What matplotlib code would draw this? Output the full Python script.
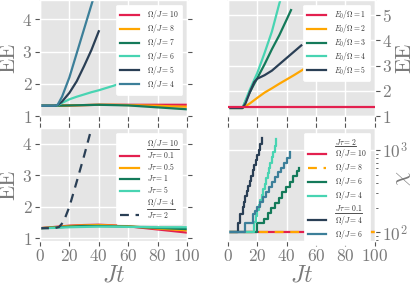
import matplotlib
matplotlib.use("agg")
import matplotlib.pyplot as plt
from matplotlib.lines import Line2D

# colours
RED = "#e3204f"
ORANGE = "#ffa600"
GREEN = "#147a5a"
TURQ = "#48d4b2"
NAVY = "#2a3f55"
STEEL = "#3c7f99"

# top left: EE vs Jt for several Omega/J
tl_t_flat = [0, 10, 20, 30, 40, 50, 60, 70, 80, 90, 100]
tl_om10 = [1.32, 1.32, 1.33, 1.34, 1.35, 1.35, 1.35, 1.35, 1.35, 1.35, 1.35]
tl_om8 = [1.32, 1.32, 1.33, 1.34, 1.35, 1.35, 1.34, 1.33, 1.32, 1.30, 1.29]
tl_om7 = [1.32, 1.32, 1.33, 1.34, 1.35, 1.34, 1.33, 1.30, 1.27, 1.24, 1.21]
tl_t6 = [0, 10, 12, 15, 20, 25, 30, 35, 40, 45, 50, 55, 60]
tl_om6 = [1.32, 1.32, 1.33, 1.41, 1.52, 1.60, 1.67, 1.74, 1.80, 1.87, 1.94, 2.02, 2.12]
tl_t5 = [0, 10, 12, 15, 20, 25, 30, 35, 40]
tl_om5 = [1.32, 1.32, 1.34, 1.45, 1.72, 2.08, 2.55, 3.05, 3.63]
tl_t4 = [0, 10, 12, 15, 20, 25, 30, 35, 37]
tl_om4 = [1.32, 1.32, 1.35, 1.60, 2.20, 2.95, 3.70, 4.45, 4.75]

# top right: EE vs Jt for several E0/Omega
tr_t1 = [0, 20, 40, 60, 80, 100]
tr_e1 = [1.34, 1.34, 1.34, 1.34, 1.34, 1.34]
tr_t2 = [0, 10, 15, 20, 25, 30, 35, 40, 45, 50, 55, 60]
tr_e2 = [1.32, 1.32, 1.50, 1.72, 1.93, 2.10, 2.28, 2.45, 2.62, 2.80, 2.98, 3.17]
tr_t3 = [0, 10, 15, 20, 25, 30, 35, 40, 43]
tr_e3 = [1.32, 1.32, 1.95, 2.50, 3.05, 3.65, 4.20, 4.82, 5.20]
tr_t4 = [0, 10, 15, 20, 25, 30, 35, 36]
tr_e4 = [1.32, 1.32, 2.05, 2.70, 3.50, 4.35, 5.45, 5.65]
tr_t5 = [0, 10, 12, 15, 18, 20, 25, 30, 35, 40, 45, 50]
tr_e5 = [1.32, 1.32, 1.50, 1.95, 2.35, 2.48, 2.62, 2.80, 3.05, 3.30, 3.55, 3.80]

# bottom left: EE vs Jt for several J tau
bl_t = [0, 10, 20, 30, 40, 50, 60, 70, 80, 90, 100]
bl_tau01 = [1.32, 1.36, 1.40, 1.42, 1.43, 1.41, 1.38, 1.33, 1.28, 1.23, 1.18]
bl_tau05 = [1.32, 1.35, 1.39, 1.41, 1.42, 1.40, 1.38, 1.35, 1.31, 1.28, 1.25]
bl_tau1 = [1.32, 1.34, 1.37, 1.39, 1.39, 1.38, 1.37, 1.35, 1.33, 1.31, 1.29]
bl_tau5 = [1.32, 1.33, 1.35, 1.36, 1.37, 1.37, 1.36, 1.36, 1.35, 1.35, 1.35]
bl_t_om4 = [0, 10, 13, 16, 20, 25, 30, 34.5]
bl_om4_tau2 = [1.32, 1.32, 1.36, 1.52, 2.00, 2.80, 3.62, 4.40]

# bottom right: bond dimension chi vs Jt
br_t_flat = [0, 100]
br_chi_flat = [100, 100]
br_t_g = [0, 19.9, 24.5, 27, 29.5, 32, 34.5, 37, 39.5, 42, 44.5, 47, 48.4]
br_chi_g = [100, 131, 146, 170, 196, 228, 264, 306, 355, 412, 478, 555, 600]
br_t_q = [0, 17.7, 19, 20, 21, 22, 23, 24, 25, 26, 27, 28, 29, 30, 31, 32, 33.1]
br_chi_q = [100, 132, 158, 185, 213, 249, 288, 336, 388, 453, 523, 611, 705,
            823, 950, 1110, 1350]
br_t_n = [0, 6.8, 8.6, 10, 11, 12, 13, 14, 15, 16, 17, 18, 19, 20, 21, 22, 23.3]
br_chi_n = [100, 131, 167, 204, 236, 273, 316, 365, 423, 489, 566, 655, 758,
            877, 1015, 1175, 1410]
br_t_s = [0, 11.8, 17, 18.5, 20, 22, 24, 26, 28, 30, 32, 34, 36, 38, 40, 42.6]
br_chi_s = [100, 131, 166, 182, 202, 233, 268, 308, 354, 407, 468, 538, 608,
            695, 795, 955]

x_ticks = [0, 20, 40, 60, 80, 100]

plt.style.use("ggplot")
plt.rcParams.update({
    "font.family": "serif",
    "font.serif": ["cmr10"],
    "mathtext.fontset": "cm",
    "axes.formatter.use_mathtext": True,
    "axes.unicode_minus": False,
    "axes.facecolor": "#e5e5e5",
    "grid.color": "white",
    "grid.linewidth": 1.0,
})

GRAY = "#7a7a7a"
LW = 1.6


def _style(ax, right=False, xlabels=True):
    ax.set_xlim(0, 100)
    ax.set_xticks(x_ticks)
    ax.tick_params(which="both", direction="out", top=True, bottom=True,
                   left=not right, right=True, color="#555555",
                   labelcolor=GRAY, labelsize=12.5, labelleft=not right,
                   labelright=right, labelbottom=xlabels, pad=2)
    ax.tick_params(which="major", length=3.5, width=0.8)
    ax.tick_params(which="minor", length=1.8, width=0.6)
    if right:
        ax.yaxis.set_label_position("right")
    if xlabels:
        ax.set_xlabel(r"$Jt$", fontsize=17, color=GRAY, labelpad=0)


def _ylabel(ax, text, x, y=0.5):
    ax.set_ylabel(text, fontsize=16, color=GRAY)
    ax.yaxis.set_label_coords(x, y)


def _legend(ax, handles, labels, loc="upper right"):
    leg = ax.legend(handles, labels, loc=loc, fontsize=5.5, frameon=True,
                    facecolor="white", edgecolor="white", framealpha=1,
                    labelspacing=0.12, handlelength=2.4, handletextpad=1.1,
                    borderpad=0.5, borderaxespad=0.6)
    for txt in leg.get_texts():
        txt.set_color("#333333")
    return leg


def _blank():
    return Line2D([], [], color="none")


fig = plt.figure(figsize=(4.15, 2.88), dpi=100)
ax_tl = fig.add_axes([0.0964, 0.597, 0.354, 0.403])
ax_tr = fig.add_axes([0.549, 0.597, 0.354, 0.403])
ax_bl = fig.add_axes([0.0964, 0.164, 0.354, 0.391])
ax_br = fig.add_axes([0.549, 0.164, 0.354, 0.391])

# top left
l1, = ax_tl.plot(tl_t_flat, tl_om10, color=RED, lw=LW)
l2, = ax_tl.plot(tl_t_flat, tl_om8, color=ORANGE, lw=LW)
l3, = ax_tl.plot(tl_t_flat, tl_om7, color=GREEN, lw=LW)
l4, = ax_tl.plot(tl_t6, tl_om6, color=TURQ, lw=LW)
l5, = ax_tl.plot(tl_t5, tl_om5, color=NAVY, lw=LW)
l6, = ax_tl.plot(tl_t4, tl_om4, color=STEEL, lw=LW)
ax_tl.set_ylim(1, 4.6)
ax_tl.set_yticks([1, 2, 3, 4])
_style(ax_tl, xlabels=False)
_ylabel(ax_tl, "EE", -0.15)
_legend(ax_tl, [l1, l2, l3, l4, l5, l6],
        [r"$\Omega/J=10$", r"$\Omega/J=8$", r"$\Omega/J=7$",
         r"$\Omega/J=6$", r"$\Omega/J=5$", r"$\Omega/J=4$"])

# top right
m1, = ax_tr.plot(tr_t1, tr_e1, color=RED, lw=LW, zorder=3)
m2, = ax_tr.plot(tr_t2, tr_e2, color=ORANGE, lw=LW)
m3, = ax_tr.plot(tr_t3, tr_e3, color=GREEN, lw=LW)
m4, = ax_tr.plot(tr_t4, tr_e4, color=TURQ, lw=LW)
m5, = ax_tr.plot(tr_t5, tr_e5, color=NAVY, lw=LW)
ax_tr.set_ylim(1, 5.6)
ax_tr.set_yticks([1, 2, 3, 4, 5])
_style(ax_tr, right=True, xlabels=False)
_ylabel(ax_tr, "EE", 1.135)
_legend(ax_tr, [m1, m2, m3, m4, m5],
        [r"$E_0/\Omega=1$", r"$E_0/\Omega=2$", r"$E_0/\Omega=3$",
         r"$E_0/\Omega=4$", r"$E_0/\Omega=5$"])

# bottom left
n1, = ax_bl.plot(bl_t, bl_tau01, color=RED, lw=LW)
n2, = ax_bl.plot(bl_t, bl_tau05, color=ORANGE, lw=LW)
n3, = ax_bl.plot(bl_t, bl_tau1, color=GREEN, lw=LW)
n4, = ax_bl.plot(bl_t, bl_tau5, color=TURQ, lw=LW)
n5, = ax_bl.plot(bl_t_om4, bl_om4_tau2, color=NAVY, lw=LW, ls=(0, (4, 3)))
ax_bl.set_ylim(0.92, 4.5)
ax_bl.set_yticks([1, 2, 3, 4])
_style(ax_bl)
_ylabel(ax_bl, "EE", -0.15)
leg_bl = _legend(ax_bl, [_blank(), n1, n2, n3, n4, _blank(), n5],
                 [r"$\Omega/J=10$", r"$J\tau=0.1$", r"$J\tau=0.5$",
                  r"$J\tau=1$", r"$J\tau=5$", r"$\Omega/J=4$",
                  r"$J\tau=2$"])

# bottom right
k1, = ax_br.plot(br_t_flat, br_chi_flat, color=RED, lw=LW)
k2, = ax_br.plot(br_t_flat, br_chi_flat, color=ORANGE, lw=LW, ls=(0, (4, 3)))
k3, = ax_br.step(br_t_g, br_chi_g, where="post", color=GREEN, lw=LW)
k4, = ax_br.step(br_t_q, br_chi_q, where="post", color=TURQ, lw=LW)
k5, = ax_br.step(br_t_n, br_chi_n, where="post", color=NAVY, lw=LW)
k6, = ax_br.step(br_t_s, br_chi_s, where="post", color=STEEL, lw=LW)
ax_br.set_yscale("log")
ax_br.set_ylim(79, 1850)
_style(ax_br, right=True)
ax_br.grid(False, which="minor")
_ylabel(ax_br, r"$\chi$", 1.125, 0.55)
leg_br = _legend(ax_br, [_blank(), k1, k2, k3, k4, _blank(), k5, k6],
                 [r"$J\tau=2$", r"$\Omega/J=10$", r"$\Omega/J=8$",
                  r"$\Omega/J=6$", r"$\Omega/J=4$", r"$J\tau=0.1$",
                  r"$\Omega/J=4$", r"$\Omega/J=6$"])

# underline the group headers inside the legends
fig.canvas.draw()
renderer = fig.canvas.get_renderer()
inv = fig.transFigure.inverted()
for leg, idx in ((leg_bl, [0, 5]), (leg_br, [0, 5])):
    texts = leg.get_texts()
    for i in idx:
        bb = texts[i].get_window_extent(renderer)
        (x0, y0), (x1, _) = inv.transform([(bb.x0, bb.y0 + 0.5),
                                           (bb.x1, bb.y0 + 0.5)])
        fig.add_artist(Line2D([x0, x1], [y0, y0], transform=fig.transFigure,
                              color="#333333", lw=0.6, zorder=10))

fig.savefig("out.png", dpi=100)
